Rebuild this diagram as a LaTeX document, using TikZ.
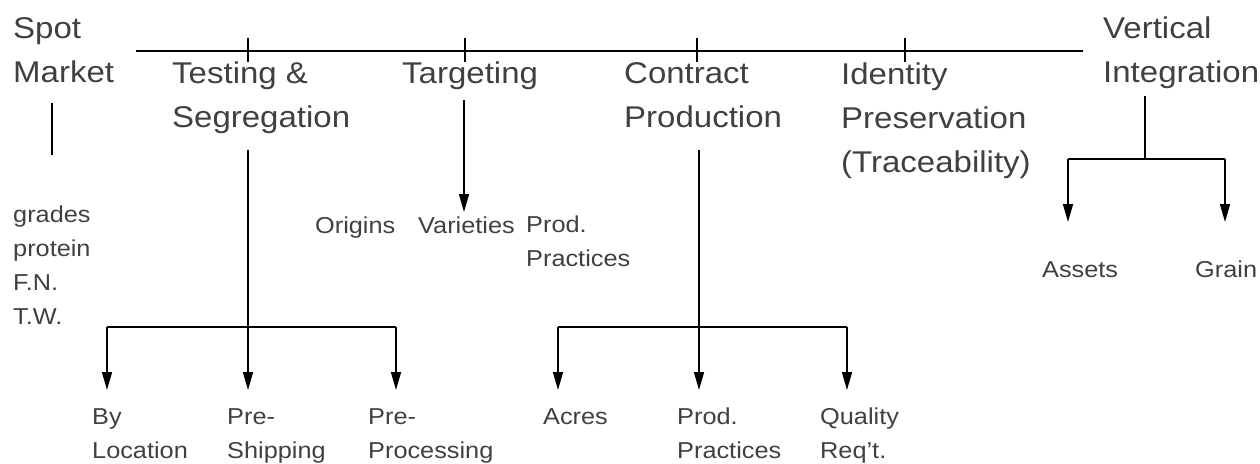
\documentclass[tikz,border=0pt]{standalone}
\usepackage{fontspec}
\setmainfont{Liberation Sans}[FakeStretch=1.1]
\usetikzlibrary{arrows.meta}
\definecolor{txt}{RGB}{64,64,64}
\begin{document}
\begin{tikzpicture}[x=1pt,y=-1pt,
  big/.style={font=\fontsize{30}{44}\selectfont, align=left, inner sep=0pt, anchor=base west, text=txt},
  small/.style={font=\fontsize{23}{34}\selectfont, align=left, inner sep=0pt, anchor=base west, text=txt},
  ln/.style={draw=black, line width=1.6pt},
  arr/.style={ln, -{Triangle[length=18pt,width=10pt]}}]
\useasboundingbox (0,0) rectangle (1260,463);
% headers (anchor = baseline of last line)
\node[big] (spot) at (13,82) {Spot\\Market};
\node[big] (test) at (172,127) {Testing \&\\Segregation};
\node[big] (targ) at (402,83) {Targeting};
\node[big] (contr) at (624,127) {Contract\\Production};
\node[big] (ident) at (841,172) {Identity\\Preservation\\(Traceability)};
\node[big] (vert) at (1103,82) {Vertical\\Integration};
% small labels
\node[small] (grades) at (13,324) {grades\\protein\\F.N.\\T.W.};
\node[small] (orig) at (315,233) {Origins};
\node[small] (vari) at (418,233) {Varieties};
\node[small] (prodp) at (526,266) {Prod.\\Practices};
\node[small] (byloc) at (92,458) {By\\Location};
\node[small] (preship) at (227,458) {Pre-\\Shipping};
\node[small] (preproc) at (368,458) {Pre-\\Processing};
\node[small] (acres) at (543,424) {Acres};
\node[small] (prodp2) at (677,458) {Prod.\\Practices};
\node[small] (qual) at (820,458) {Quality\\Req't.};
\node[small] (assets) at (1042,277) {Assets};
\node[small] (grain) at (1195,277) {Grain};
% coordinates
\coordinate (lineL) at (136,51);
\coordinate (lineR) at (1083,51);
\foreach \n/\x in {t1/248,t2/465,t3/697,t4/905}{
  \coordinate (\n a) at (\x,38);
  \coordinate (\n b) at (\x,62);
}
\coordinate (spA) at (52,103);
\coordinate (spB) at (52,155);
\coordinate (tsA) at (248,150);
\coordinate (tsL) at (107,327);
\coordinate (tsR) at (396,327);
\coordinate (tsTipL) at (107,390);
\coordinate (tsTipM) at (248,390);
\coordinate (tsTipR) at (396,390);
\coordinate (tgA) at (464,100);
\coordinate (tgTip) at (464,212);
\coordinate (cpA) at (699,150);
\coordinate (cpL) at (558,327);
\coordinate (cpR) at (847,327);
\coordinate (cpTipL) at (558,390);
\coordinate (cpTipM) at (699,390);
\coordinate (cpTipR) at (847,390);
\coordinate (viA) at (1145,96);
\coordinate (viJ) at (1145,159);
\coordinate (viL) at (1068,159);
\coordinate (viR) at (1225,159);
\coordinate (viTipL) at (1068,222);
\coordinate (viTipR) at (1225,222);
% lines
\draw[ln] (lineL) -- (lineR);
\foreach \n in {t1,t2,t3,t4}{ \draw[ln] (\n a) -- (\n b); }
\draw[ln] (spA) -- (spB);
\draw[arr] (tsA) -- (tsTipM);
\draw[ln] (tsL) -- (tsR);
\draw[arr] (tsL) -- (tsTipL);
\draw[arr] (tsR) -- (tsTipR);
\draw[arr] (tgA) -- (tgTip);
\draw[arr] (cpA) -- (cpTipM);
\draw[ln] (cpL) -- (cpR);
\draw[arr] (cpL) -- (cpTipL);
\draw[arr] (cpR) -- (cpTipR);
\draw[ln] (viA) -- (viJ);
\draw[ln] (viL) -- (viR);
\draw[arr] (viL) -- (viTipL);
\draw[arr] (viR) -- (viTipR);
\end{tikzpicture}
\end{document}
